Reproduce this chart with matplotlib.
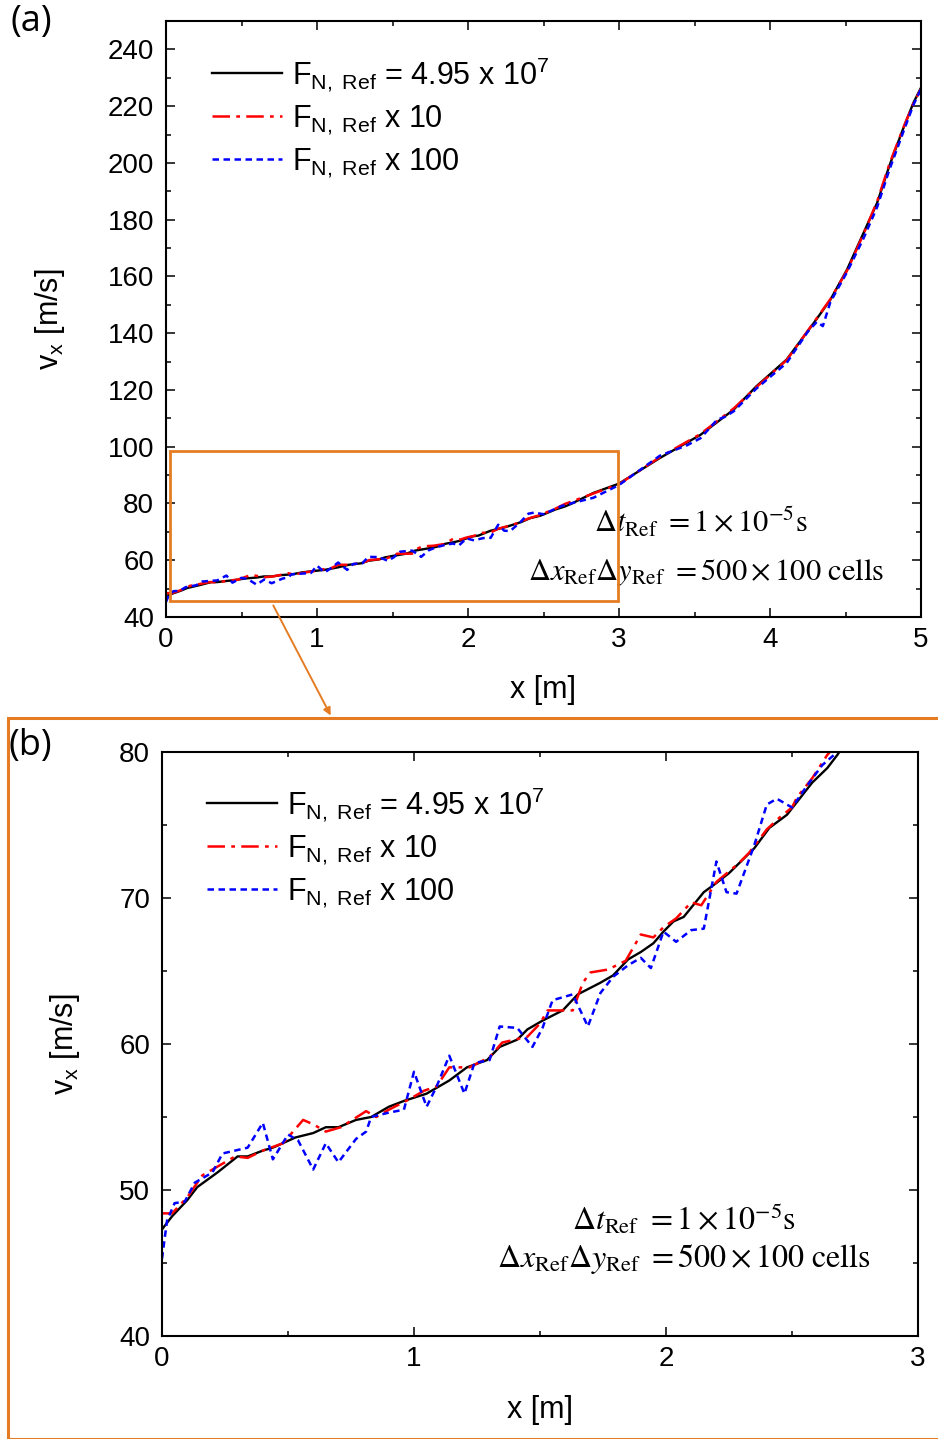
import matplotlib
matplotlib.use("Agg")
import matplotlib.pyplot as plt
from matplotlib.patches import Rectangle, FancyArrowPatch
from matplotlib.ticker import MultipleLocator

plt.rcParams['font.family'] = ['Liberation Sans', 'DejaVu Sans']
plt.rcParams['mathtext.fontset'] = 'custom'
plt.rcParams['mathtext.rm'] = 'Liberation Sans'
plt.rcParams['mathtext.it'] = 'Liberation Sans:italic'
plt.rcParams['mathtext.bf'] = 'Liberation Sans:bold'

# ---------------- data ----------------
x_ref = [0, 0.04, 0.10, 0.14, 0.22, 0.30, 0.34, 0.40, 0.44, 0.53, 0.60, 0.65, 0.70, 0.77, 0.83,
         0.90, 0.96, 1.05, 1.14, 1.21, 1.29, 1.34, 1.41, 1.45, 1.51, 1.59, 1.65, 1.74, 1.79, 1.85,
         1.90, 1.95, 1.99, 2.03, 2.07, 2.15, 2.19, 2.25, 2.35, 2.41, 2.48, 2.53, 2.58, 2.64, 2.68,
         2.83, 3.0, 3.27, 3.54, 3.76, 3.91, 4.11, 4.29, 4.40, 4.51, 4.62, 4.71, 4.79, 4.88, 4.95, 5.0]
v_ref = [47.3, 48.2, 49.3, 50.2, 51.2, 52.3, 52.3, 52.7, 52.9, 53.6, 53.9, 54.3, 54.3, 54.8, 55.0,
         55.7, 56.1, 56.6, 57.5, 58.4, 58.9, 59.8, 60.3, 61.0, 61.6, 62.3, 63.4, 64.2, 64.7, 65.8,
         66.3, 66.9, 67.7, 68.4, 68.7, 70.4, 70.9, 71.7, 73.4, 74.8, 75.7, 76.8, 77.9, 78.9, 79.8,
         83.7, 87.0, 96.0, 104.2, 113.1, 121.3, 130.7, 143.6, 151.8, 162.4, 175.4, 186.0, 198.9,
         211.8, 221.2, 226.5]

x_10 = [0, 0.04, 0.10, 0.16, 0.22, 0.29, 0.34, 0.40, 0.48, 0.56, 0.60, 0.65, 0.71, 0.81, 0.85,
        0.90, 0.98, 1.04, 1.09, 1.14, 1.22, 1.30, 1.35, 1.45, 1.50, 1.53, 1.58, 1.63, 1.67, 1.70,
        1.77, 1.84, 1.90, 1.95, 1.99, 2.04, 2.10, 2.14, 2.20, 2.29, 2.33, 2.40, 2.45, 2.50, 2.52,
        2.58, 2.64, 2.83, 3.0, 3.27, 3.54, 3.76, 3.91, 4.11, 4.29, 4.40, 4.51, 4.62, 4.71, 4.79,
        4.88, 4.95, 5.0]
v_10 = [48.4, 48.4, 49.5, 51.0, 51.6, 52.3, 52.2, 52.7, 53.2, 54.8, 54.5, 54.0, 54.3, 55.4, 55.0,
        55.5, 56.2, 56.8, 57.1, 58.4, 58.4, 59.1, 60.1, 60.5, 61.4, 62.3, 62.3, 62.3, 64.2, 64.9,
        65.1, 65.7, 67.5, 67.3, 68.0, 68.6, 69.7, 69.5, 71.1, 72.4, 73.1, 74.7, 75.5, 76.2, 76.9,
        78.2, 79.8, 83.5, 86.8, 96.3, 104.5, 113.5, 121.0, 130.5, 143.8, 152.0, 162.0, 175.0,
        186.5, 199.5, 212.0, 221.0, 226.0]

x_100 = [0, 0.02, 0.05, 0.09, 0.13, 0.20, 0.24, 0.29, 0.34, 0.40, 0.44, 0.50, 0.54, 0.60, 0.65,
         0.70, 0.77, 0.81, 0.83, 0.90, 0.96, 1.00, 1.05, 1.09, 1.14, 1.20, 1.24, 1.30, 1.34, 1.41,
         1.47, 1.51, 1.55, 1.63, 1.69, 1.74, 1.79, 1.85, 1.90, 1.94, 1.99, 2.04, 2.10, 2.15, 2.20,
         2.24, 2.28, 2.35, 2.40, 2.44, 2.50, 2.56, 2.62, 2.68, 2.83, 3.0, 3.27, 3.45, 3.54, 3.65,
         3.70, 3.76, 3.91, 4.11, 4.25, 4.31, 4.35, 4.40, 4.51, 4.62, 4.71, 4.79, 4.88, 4.95, 5.0]
v_100 = [45.3, 47.9, 49.1, 49.2, 50.5, 51.2, 52.5, 52.7, 52.9, 54.6, 52.1, 53.8, 53.4, 51.4, 53.2,
         51.9, 53.5, 54.0, 55.0, 55.3, 55.5, 58.1, 55.7, 57.1, 59.2, 56.6, 58.7, 58.9, 61.2, 61.1,
         59.8, 61.1, 63.0, 63.4, 61.2, 63.5, 64.6, 65.4, 65.9, 65.2, 67.7, 67.0, 67.8, 67.9, 72.5,
         70.4, 70.3, 73.6, 76.4, 76.8, 76.2, 77.7, 79.1, 80.0, 82.0, 86.5, 96.8, 100.5, 103.0, 109.5,
         110.5, 112.5, 120.5, 129.5, 140.5, 144.0, 142.5, 151.0, 161.5, 173.5, 184.5, 197.5, 210.5,
         220.5, 226.0]

labels = [r'F$_{\mathrm{N,\ Ref}}$ = 4.95 x 10$^{7}$',
          r'F$_{\mathrm{N,\ Ref}}$ x 10',
          r'F$_{\mathrm{N,\ Ref}}$ x 100']
annot1 = r'$\Delta t_{\mathrm{Ref}}\ = 1\times10^{-5}\mathrm{s}$'
annot2 = r'$\Delta x_{\mathrm{Ref}}\Delta y_{\mathrm{Ref}}\ = 500\times100\ \mathrm{cells}$'

# ---------------- figure ----------------
W, H = 938, 1439
fig = plt.figure(figsize=(W / 100, H / 100), dpi=100)

def fx(px):
    return px / W

def fy(py):
    return 1 - py / H

ax_a = fig.add_axes([fx(166), fy(617), fx(921) - fx(166), fy(21) - fy(617)])
ax_b = fig.add_axes([fx(162), fy(1336), fx(918) - fx(162), fy(752) - fy(1336)])

orange = '#E57C23'
TICK_FS = 20
LAB_FS = 22
LEG_FS = 22
ANN_FS = 22

def draw(ax):
    l1, = ax.plot(x_ref, v_ref, color='black', lw=1.7, ls='-')
    l2, = ax.plot(x_10, v_10, color='#FF0000', lw=1.8, ls=(0, (7, 2.5, 1.5, 2.5)))
    l3, = ax.plot(x_100, v_100, color='#0000FF', lw=1.8, ls=(0, (2.6, 1.8)))
    return [l1, l2, l3]

def style(ax, ymaj, ymin):
    for s in ax.spines.values():
        s.set_linewidth(1.5)
    ax.xaxis.set_major_locator(MultipleLocator(1))
    ax.xaxis.set_minor_locator(MultipleLocator(0.5))
    ax.yaxis.set_major_locator(MultipleLocator(ymaj))
    ax.yaxis.set_minor_locator(MultipleLocator(ymin))
    ax.tick_params(which='both', direction='in', top=True, right=True, labelsize=TICK_FS, width=1.1)
    ax.tick_params(which='major', length=6.5)
    ax.tick_params(which='minor', length=3.8)
    ax.tick_params(axis='x', pad=7)
    ax.tick_params(axis='y', pad=8.5)

def legend(ax, x0, y0):
    ax.legend(ax.get_lines(), labels, loc='upper left', bbox_to_anchor=(fx(x0), fy(y0)),
              bbox_transform=fig.transFigure, frameon=False, fontsize=LEG_FS,
              handlelength=2.3, handletextpad=0.33, labelspacing=0.32, borderpad=0,
              borderaxespad=0)

# panel (a)
draw(ax_a)
ax_a.set_xlim(0, 5)
ax_a.set_ylim(40, 250)
style(ax_a, 20, 10)
ax_a.set_xlabel('x [m]', fontsize=LAB_FS)
ax_a.set_ylabel(r'v$_{\mathrm{x}}$ [m/s]', fontsize=LAB_FS)
ax_a.xaxis.set_label_coords(0.5, (617 - 690) / 596, transform=ax_a.transAxes)
ax_a.yaxis.set_label_coords((50 - 166) / 755, 0.5, transform=ax_a.transAxes)
ax_a.xaxis.label.set_va('center')
ax_a.yaxis.label.set_va('center')
legend(ax_a, 212, 55)
ax_a.text(0.708, 0.158, annot1, transform=ax_a.transAxes, fontsize=ANN_FS, ha='center',
          va='center', math_fontfamily='stix')
ax_a.text(0.716, 0.0755, annot2, transform=ax_a.transAxes, fontsize=ANN_FS, ha='center',
          va='center', math_fontfamily='stix')
ax_a.add_patch(Rectangle((0.026, 45.6), 2.965, 52.9, fill=False, edgecolor=orange, lw=2.0,
                         zorder=5, clip_on=False))

# panel (b)
draw(ax_b)
ax_b.set_xlim(0, 3)
ax_b.set_ylim(40, 80)
style(ax_b, 10, 5)
ax_b.set_xlabel('x [m]', fontsize=LAB_FS)
ax_b.set_ylabel(r'v$_{\mathrm{x}}$ [m/s]', fontsize=LAB_FS)
ax_b.xaxis.set_label_coords(0.5, (1336 - 1410) / 584, transform=ax_b.transAxes)
ax_b.yaxis.set_label_coords((65 - 162) / 756, 0.5, transform=ax_b.transAxes)
ax_b.xaxis.label.set_va('center')
ax_b.yaxis.label.set_va('center')
legend(ax_b, 207, 785)
ax_b.text(0.69, 0.20, annot1, transform=ax_b.transAxes, fontsize=23, ha='center',
          va='center', math_fontfamily='stix')
ax_b.text(0.69, 0.132, annot2, transform=ax_b.transAxes, fontsize=23, ha='center',
          va='center', math_fontfamily='stix')

# big orange frame around panel (b)
fig.patches.append(Rectangle((fx(8), 0), 1.05, fy(718), transform=fig.transFigure, fill=False,
                             edgecolor=orange, lw=2.2, clip_on=False))
# connecting arrow
arr = FancyArrowPatch((fx(272), fy(603)), (fx(332), fy(718)), transform=fig.transFigure,
                      arrowstyle='-|>', mutation_scale=11, color=orange, lw=1.4)
fig.patches.append(arr)

# panel labels
fig.text(fx(10), fy(22), '(a)', fontsize=26, ha='left', va='center',
         family=['Open Sans', 'DejaVu Sans'])
fig.text(fx(8), fy(746), '(b)', fontsize=26, ha='left', va='center',
         family=['Open Sans', 'DejaVu Sans'])

fig.savefig('out.png', dpi=100)
